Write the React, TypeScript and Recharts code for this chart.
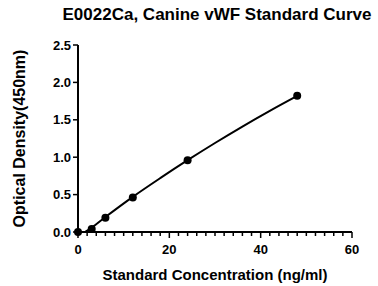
import React from 'react';
import { ComposedChart, Line, Scatter, XAxis, YAxis } from 'recharts';

// standard points
const concentrations = [0, 3, 6, 12, 24, 48];
const densities = [0.0, 0.04, 0.19, 0.46, 0.96, 1.82];

// fitted curve
const fitX = [1.5, 3, 6, 12, 18, 24, 30, 36, 42, 48];
const fitY = [0.0, 0.06, 0.2, 0.47, 0.72, 0.96, 1.19, 1.41, 1.62, 1.82];

const xTicks = [0, 2, 4, 6, 8, 10, 12, 14, 16, 18, 20, 22, 24, 26, 28, 30, 32, 34, 36, 38, 40, 42, 44, 46, 48, 50, 52, 54, 56, 58, 60];
const yTicks = [0, 0.5, 1.0, 1.5, 2.0, 2.5];

const points = concentrations.map((x, i) => ({ x, y: densities[i] }));
const curve = fitX.map((x, i) => ({ x, fit: fitY[i] }));

const font = 'Arial, "Liberation Sans", Helvetica, sans-serif';

function XTick(props: any) {
    const { x, y, payload } = props;
    const major = payload.value % 20 === 0;
    return (
        <g>
            <line x1={x} y1={y} x2={x} y2={y + (major ? 6 : 4)} stroke="#000" strokeWidth={1.5} />
            {major && (
                <text x={x} y={y + 22} textAnchor="middle" fontSize={13} fontWeight="bold" fill="#000" fontFamily={font}>
                    {payload.value}
                </text>
            )}
        </g>
    );
}

export default function App() {
    return (
        <div style={{ position: 'absolute', left: 0, top: 0, width: 378, height: 286, background: '#fff' }}>
            <div style={{ position: 'absolute', left: 0, top: 5, width: 434, textAlign: 'center', fontFamily: font, fontWeight: 'bold', fontSize: 17, color: '#000', whiteSpace: 'nowrap' }}>
                E0022Ca, Canine vWF Standard Curve
            </div>
            <ComposedChart width={378} height={286} margin={{ top: 45, right: 26, bottom: 0, left: 0 }}>
                <XAxis
                    type="number"
                    dataKey="x"
                    domain={[0, 60]}
                    ticks={xTicks}
                    interval={0}
                    tickSize={0}
                    tickMargin={0}
                    tickLine={false}
                    tick={<XTick />}
                    height={54}
                    axisLine={{ stroke: '#000', strokeWidth: 2 }}
                    label={{ value: 'Standard Concentration (ng/ml)', position: 'insideBottom', offset: 6, style: { fontFamily: font, fontWeight: 'bold', fontSize: 15, fill: '#000' } }}
                />
                <YAxis
                    type="number"
                    domain={[0, 2.5]}
                    ticks={yTicks}
                    width={78}
                    tickFormatter={(v: number) => v.toFixed(1)}
                    tick={{ fontFamily: font, fontWeight: 'bold', fontSize: 13, fill: '#000' }}
                    tickLine={{ stroke: '#000', strokeWidth: 1.5 }}
                    tickSize={5}
                    tickMargin={2}
                    axisLine={{ stroke: '#000', strokeWidth: 2 }}
                    label={{ value: 'Optical Density(450nm)', angle: -90, position: 'insideLeft', offset: 19, style: { textAnchor: 'middle', fontFamily: font, fontWeight: 'bold', fontSize: 16, fill: '#000' } }}
                />
                <Line data={curve} dataKey="fit" type="monotone" stroke="#000" strokeWidth={2} dot={false} isAnimationActive={false} />
                <Scatter data={points} dataKey="y" fill="#000" shape={(p: any) => <circle cx={p.cx} cy={p.cy} r={4} fill="#000" />} isAnimationActive={false} />
            </ComposedChart>
        </div>
    );
}
